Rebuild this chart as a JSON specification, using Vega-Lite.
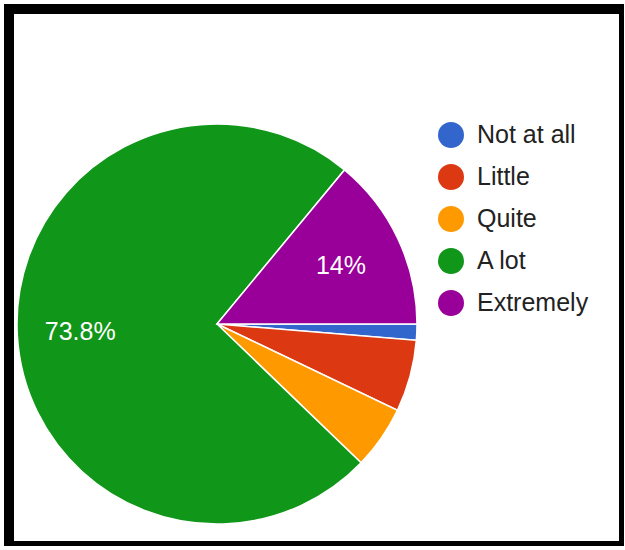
{
  "$schema": "https://vega.github.io/schema/vega-lite/v6.json",
  "width": 615,
  "height": 537,
  "autosize": {"type": "none"},
  "padding": {"left": 9, "top": 9, "right": 0, "bottom": 0},
  "background": "white",
  "view": {"stroke": "black", "strokeWidth": 10},
  "data": {
    "values": [
      {"answer": "Not at all", "value": 0.013, "rank": 1},
      {"answer": "Little", "value": 0.058, "rank": 2},
      {"answer": "Quite", "value": 0.051, "rank": 3},
      {"answer": "A lot", "value": 0.738, "rank": 4},
      {"answer": "Extremely", "value": 0.14, "rank": 5}
    ]
  },
  "encoding": {
    "theta": {"field": "value", "type": "quantitative", "stack": true, "scale": {"range": [1.5708, 7.854]}},
    "order": {"field": "rank", "type": "quantitative"}
  },
  "layer": [
    {
      "mark": {"type": "arc", "x": 208, "y": 315, "outerRadius": 200, "stroke": "white", "strokeWidth": 1.5},
      "encoding": {
        "color": {
          "field": "answer",
          "type": "nominal",
          "sort": ["Not at all", "Little", "Quite", "A lot", "Extremely"],
          "scale": {
            "domain": ["Not at all", "Little", "Quite", "A lot", "Extremely"],
            "range": ["#3366cc", "#dc3912", "#ff9900", "#109618", "#990099"]
          },
          "legend": {
            "title": null,
            "orient": "none",
            "legendX": 429,
            "legendY": 113,
            "symbolType": "circle",
            "symbolSize": 676,
            "symbolStrokeWidth": 0,
            "labelFont": "Liberation Sans",
            "labelFontSize": 25,
            "labelColor": "#222222",
            "labelOffset": 13,
            "rowPadding": 16,
            "padding": 0
          }
        }
      }
    },
    {
      "mark": {"type": "text", "x": 208, "y": 315, "radius": 137, "font": "Liberation Sans", "fontSize": 25, "fill": "white"},
      "encoding": {
        "text": {
          "condition": {"test": "datum.value < 0.1", "value": ""},
          "field": "value",
          "type": "quantitative",
          "format": ".1~%"
        }
      }
    }
  ]
}
